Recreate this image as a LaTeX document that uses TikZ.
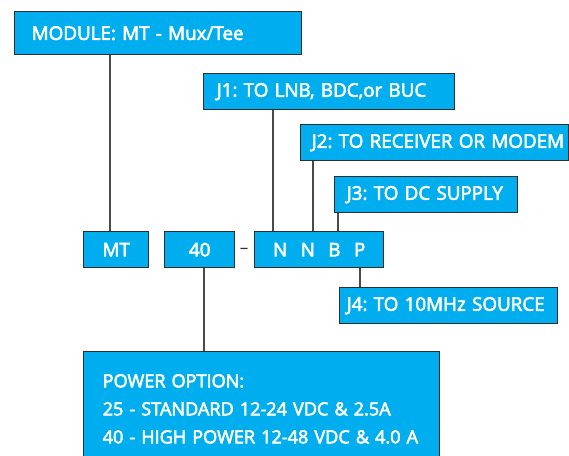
\documentclass[tikz,border=0pt]{standalone}
\usepackage{fontspec}
\setmainfont{Open Sans}
\newfontfamily\semib{Open Sans}
\frenchspacing
\definecolor{boxblue}{HTML}{00AEEF}
\definecolor{boxedge}{HTML}{2E2E2E}
\definecolor{linegrey}{HTML}{4A4A4A}
\newcommand\heavyon{\special{pdf:literal direct 2 Tr 0.55 w}}
\newcommand\heavyoff{\special{pdf:literal direct 0 Tr}}
\begin{document}
\begin{tikzpicture}[x=1pt,y=-1pt,
  box/.style={draw=boxedge, line width=1.4pt, fill=boxblue, text=white,
    font=\semib\fontsize{18.8}{22}\selectfont\frenchspacing, inner sep=0pt, anchor=north west,
    execute at begin node=\heavyon, execute at end node=\heavyoff},
  lbox/.style={box, align=left, text width=#1},
  conn/.style={draw=linegrey, line width=1.3pt}]
\useasboundingbox (0,0) rectangle (569,455);
% boxes
\node[lbox=287pt, minimum width=287pt, minimum height=43pt] (mod) at (14,11) {\hspace*{17pt}MODULE: MT - Mux/Tee};
\node[lbox=251pt, minimum width=251pt, minimum height=36pt] (j1) at (203,73) {\hspace*{13pt}J1: TO LNB, BDC,or BUC};
\node[lbox=268pt, minimum width=268pt, minimum height=36pt] (j2) at (300,124) {\hspace*{11pt}J2: TO RECEIVER OR MODEM};
\node[lbox=183pt, minimum width=183pt, minimum height=36pt] (j3) at (334,176) {\hspace*{12pt}J3: TO DC SUPPLY};
\node[box, minimum width=65pt, minimum height=36pt] (mt) at (83,231) {MT};
\node[box, minimum width=70pt, minimum height=36pt] (n40) at (164,231) {40};
\node[anchor=base, inner sep=0pt, font=\fontsize{17}{19}\selectfont, text=boxedge] (dash) at (244,253) {--};
\node[box, minimum width=129pt, minimum height=36pt] (code) at (254,231) {N\hspace{13.5pt}N\hspace{13.5pt}B\hspace{13.5pt}P};
\node[lbox=218pt, minimum width=218pt, minimum height=36pt] (j4) at (339,287) {\hspace*{7pt}J4: TO 10MHz SOURCE};
\node[lbox=356pt, minimum width=356pt, inner ysep=22.5pt, font=\semib\fontsize{18.1}{28}\selectfont\frenchspacing] (pow) at (83,351)
  {\hspace*{19pt}POWER OPTION:\\\hspace*{19pt}25 - STANDARD 12-24 VDC \& 2.5A\\\hspace*{19pt}40 - HIGH POWER 12-48 VDC \& 4.0 A\\[14pt]};
% connectors
\draw[conn] (mod.south -| 110,0) -- (mt.north -| 110,0);
\draw[conn] (j1.south -| 273,0) -- (code.north -| 273,0);
\draw[conn] (j2.south -| 313,0) -- (code.north -| 313,0);
\draw[conn] (j3.south -| 338,0) -- (code.north -| 338,0);
\draw[conn] (code.south -| 360,0) -- (j4.north -| 360,0);
\draw[conn] (n40.south -| 204,0) -- (pow.north -| 204,0);
\end{tikzpicture}
\end{document}
